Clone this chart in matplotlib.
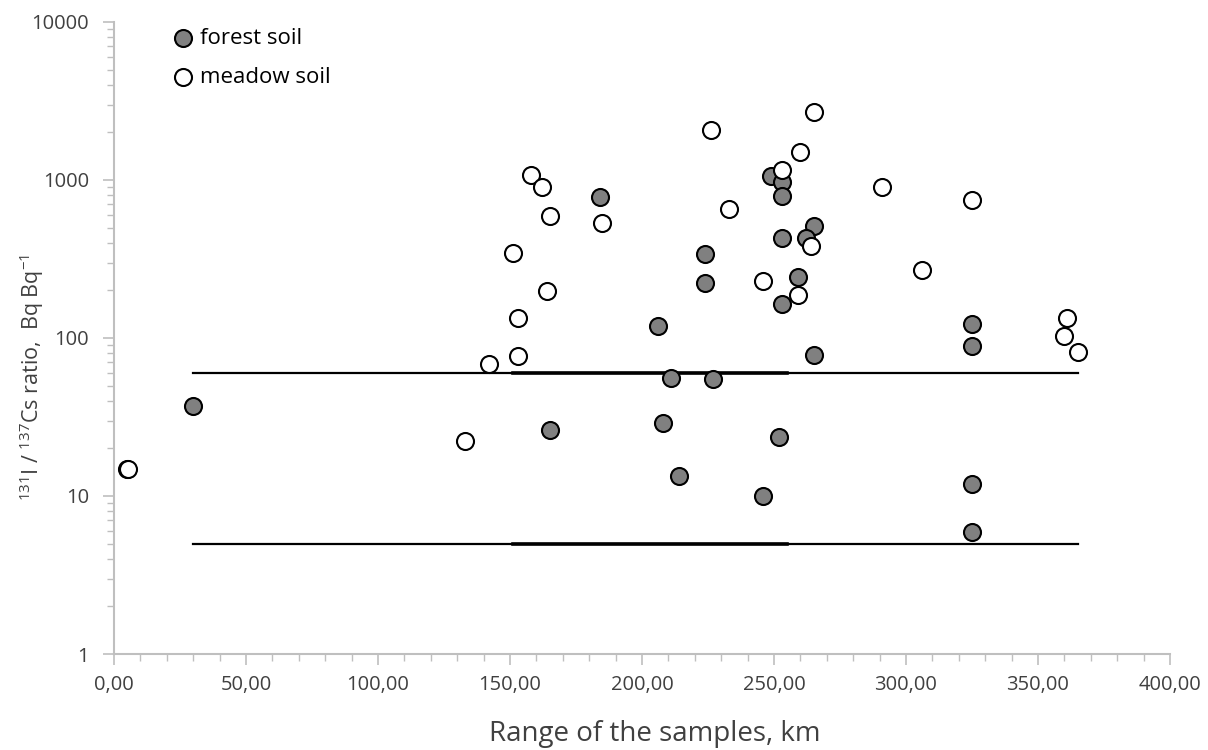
"""
Scatter of 131I / 137Cs ratio against sampling range, log y axis.
"""
import matplotlib
matplotlib.use("Agg")
import matplotlib.pyplot as plt
from matplotlib.ticker import FixedLocator, LogLocator, NullFormatter, FuncFormatter

plt.rcParams['font.family'] = ['Open Sans', 'DejaVu Sans']
plt.rcParams['mathtext.fontset'] = 'custom'
plt.rcParams['mathtext.rm'] = 'Open Sans'

# forest soil points (range km, ratio)
forest_x = [30, 184, 206, 211, 165, 208, 249, 253, 253, 265, 262, 253, 224, 224,
            259, 253, 265, 227, 252, 214, 246, 325, 325, 325, 325]
forest_y = [37, 777, 119, 56, 26, 29, 1058, 970, 793, 511, 428, 431, 341, 222,
            242, 165, 78, 55, 23.5, 13.4, 10, 123, 88.5, 11.9, 5.9]

# meadow soil points
meadow_x = [5, 5.3, 158, 162, 165, 185, 151, 164, 153, 153, 142, 133, 226, 265,
            260, 253, 291, 233, 264, 246, 259, 325, 306, 361, 360, 365]
meadow_y = [14.8, 14.8, 1077, 904, 594, 535, 347, 199, 134, 77, 68, 22.4, 2066, 2706,
            1511, 1156, 907, 652, 382, 230, 187, 746, 270, 133, 103.5, 81.8]

# horizontal reference lines (upper and lower limit), plus the overlapping shorter copies
line_x = [30, 365]
line_x_short = [151, 255]
upper_limit = 60
lower_limit = 5

x_ticks = [0, 50, 100, 150, 200, 250, 300, 350, 400]
y_ticks = [1, 10, 100, 1000, 10000]

AXIS_GREY = '#bfbfbf'
TEXT_GREY = '#404040'

fig = plt.figure(figsize=(12.08, 7.5), dpi=100)
ax = fig.add_axes([0.0944, 0.128, 0.8741, 0.8427])

# reference lines
for yv in (upper_limit, lower_limit):
    ax.plot(line_x, [yv, yv], color='black', lw=1.6, zorder=2)
    ax.plot(line_x_short, [yv, yv], color='black', lw=2.6, zorder=2)

ax.scatter(forest_x, forest_y, s=150, facecolor='#808080', edgecolor='black',
           linewidth=1.5, zorder=3, label='forest soil')
ax.scatter(meadow_x, meadow_y, s=150, facecolor='white', edgecolor='black',
           linewidth=1.5, zorder=3, label='meadow soil')

ax.set_yscale('log')
ax.set_xlim(0, 400)
ax.set_ylim(1, 10000)

ax.xaxis.set_major_locator(FixedLocator(x_ticks))
ax.xaxis.set_minor_locator(FixedLocator(range(0, 401, 10)))
ax.xaxis.set_major_formatter(FuncFormatter(lambda v, p: f"{v:.2f}".replace('.', ',')))
ax.yaxis.set_major_locator(FixedLocator(y_ticks))
ax.yaxis.set_minor_locator(LogLocator(base=10, subs=range(2, 10)))
ax.yaxis.set_minor_formatter(NullFormatter())
ax.yaxis.set_major_formatter(FuncFormatter(lambda v, p: f"{int(v)}"))

for side in ('top', 'right'):
    ax.spines[side].set_visible(False)
for side in ('left', 'bottom'):
    ax.spines[side].set_color(AXIS_GREY)
    ax.spines[side].set_linewidth(1.5)

ax.tick_params(which='major', length=8, width=1.2, color=AXIS_GREY,
               labelsize=14.5, labelcolor=TEXT_GREY)
ax.tick_params(axis='y', which='major', pad=10)
ax.tick_params(axis='x', which='major', pad=7)
ax.tick_params(which='minor', length=5, width=1.0, color=AXIS_GREY)

ax.set_xlabel('Range of the samples, km', fontsize=20, color=TEXT_GREY)
ax.xaxis.set_label_coords(0.512, -0.105)
# y label placed by hand so the long mathtext string stays inside the figure
fig.text(0.026, 0.496, r'$^{131}$I / $^{137}$Cs ratio,  Bq Bq$^{-1}$', fontsize=15.5,
         color=TEXT_GREY, rotation=90, ha='center', va='center')

leg = ax.legend(loc='upper left', bbox_to_anchor=(0.04, 1.015), frameon=False,
                fontsize=16, handletextpad=0.25, labelspacing=0.8, borderpad=0.2,
                markerscale=1.0, handlelength=1.0)

fig.savefig('out.png', dpi=100)
